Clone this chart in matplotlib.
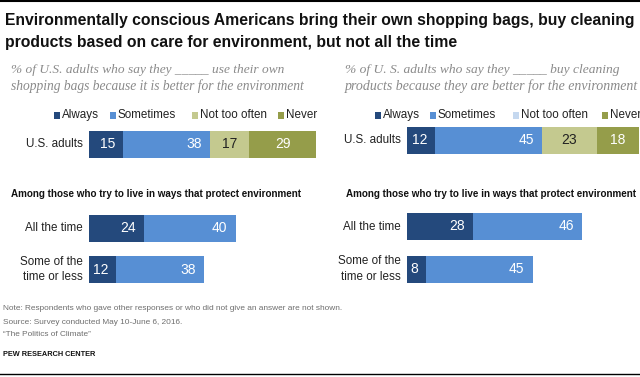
import matplotlib
matplotlib.use('Agg')
import matplotlib.pyplot as plt

SANS = 'Liberation Sans'
SERIF = 'Liberation Serif'

# Data
categories = ['Always', 'Sometimes', 'Not too often', 'Never']
rows = ['U.S. adults', 'All the time', 'Some of the\ntime or less']

bags_us = [15, 38, 17, 29]
bags_all = [24, 40]
bags_some = [12, 38]

clean_us = [12, 45, 23, 18]
clean_all = [28, 46]
clean_some = [8, 45]

colors = ['#24497c', '#578fd4', '#c4c98f', '#959d4a']
legend_colors_right = ['#24497c', '#578fd4', '#c5d8ef', '#959d4a']
label_colors = ['white', 'white', '#222222', 'white']

W, H = 640, 377
fig = plt.figure(figsize=(W / 100, H / 100), dpi=100)
renderer = fig.canvas.get_renderer()


def fx(x):
    return x / W


def fy(y):
    return 1 - y / H


def fit_text(x, y, s, width_px, **kw):
    # shrink/grow font so the line spans about width_px pixels
    t = fig.text(fx(x), fy(y), s, ha='left', va='center', fontsize=10, **kw)
    w = t.get_window_extent(renderer=renderer).width
    t.set_fontsize(10 * width_px / w)
    return t


def panel(x0, px_per_pct, us, all_t, some, row_y, leg_x, leg_cols):
    ax = fig.add_axes([fx(x0), 0, px_per_pct * 100 / W, 1])
    ax.set_xlim(0, 100)
    ax.set_ylim(H, 0)
    ax.axis('off')
    bar_h = 27
    for vals, y in zip([us, all_t, some], row_y):
        left = 0
        for i, v in enumerate(vals):
            ax.barh(y, v, left=left, height=bar_h, color=colors[i], linewidth=0)
            if i < 2:
                ax.text(left + v - 8 / px_per_pct, y, str(v), ha='right', va='center',
                        color=label_colors[i], fontsize=10, family=SANS)
            else:
                ax.text(left + v / 2, y, str(v), ha='center', va='center',
                        color=label_colors[i], fontsize=10, family=SANS)
            left += v
    # row labels
    for lab, y in zip(rows, row_y):
        fig.text(fx(x0 - 6), fy(y), lab, ha='right', va='center', fontsize=8.4,
                 family=SANS, color='#222222', linespacing=1.35)
    # legend
    for cat, lx, c in zip(categories, leg_x, leg_cols):
        fig.patches.append(plt.Rectangle((fx(lx), fy(119)), 6 / W, 7 / H,
                                         transform=fig.transFigure, color=c, lw=0))
        fig.text(fx(lx + 8), fy(115), cat, ha='left', va='center', fontsize=8.4,
                 family=SANS, color='#222222')


panel(89, 2.29, bags_us, bags_all, bags_some, [144, 228, 269.5],
      [54, 110, 192, 278], colors)
panel(407, 2.37, clean_us, clean_all, clean_some, [140, 226.5, 269],
      [375, 430, 513, 602], legend_colors_right)

# title
t1 = fit_text(5, 20, 'Environmentally conscious Americans bring their own shopping bags, buy cleaning',
              630, fontweight='bold', family=SANS, color='#111111')
fig.text(fx(5), fy(42), 'products based on care for environment, but not all the time',
         ha='left', va='center', fontsize=t1.get_fontsize(), fontweight='bold',
         family=SANS, color='#111111')

# subtitles
sub = dict(style='italic', family=SERIF, color='#8a8a8a')
fit_text(11, 70, '% of U.S. adults who say they _____ use their own', 272, **sub)
fit_text(11, 86, 'shopping bags because it is better for the environment', 294, **sub)
fit_text(345, 70, '% of U. S. adults who say they _____ buy cleaning', 275, **sub)
fit_text(345, 86, 'products because they are better for the environment', 292, **sub)

# section headers
for x in [11, 346]:
    fit_text(x, 194, 'Among those who try to live in ways that protect environment', 289,
             fontweight='bold', family=SANS, color='#111111')

# footnotes
n1 = fit_text(3, 309, 'Note: Respondents who gave other responses or who did not give an answer are not shown.',
              337, family=SANS, color='#6e6e6e')
for y, s in [(322, 'Source: Survey conducted May 10-June 6, 2016.'),
             (335, '\u201cThe Politics of Climate\u201d')]:
    fig.text(fx(3), fy(y), s, ha='left', va='center', fontsize=n1.get_fontsize(),
             family=SANS, color='#6e6e6e')
fit_text(3, 354, 'PEW RESEARCH CENTER', 92, fontweight='bold', family=SANS, color='#111111')

# rules
fig.add_artist(plt.Line2D([0, 1], [fy(1), fy(1)], color='black', lw=1.5))
fig.add_artist(plt.Line2D([0, 1], [fy(374), fy(374)], color='black', lw=1))

fig.savefig('out.png', dpi=100)
